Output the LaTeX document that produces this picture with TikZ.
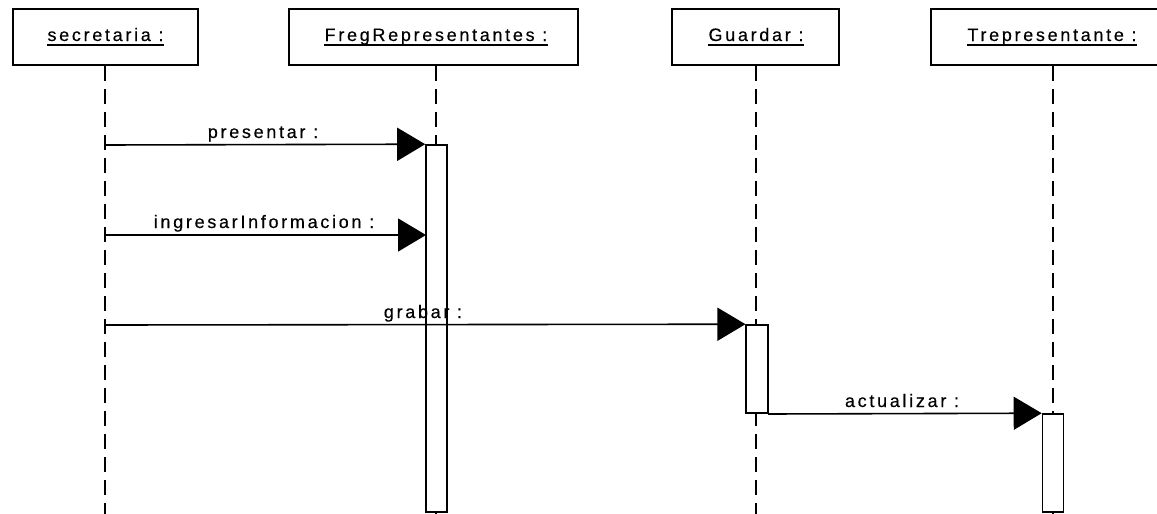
\documentclass[tikz,border=0pt]{standalone}
\usepackage{fontspec}
\setmainfont{Liberation Sans}[LetterSpace=15,FakeBold=0.3]
\usetikzlibrary{arrows.meta}
\begin{document}
\begin{tikzpicture}[x=1pt,y=-1pt,
  line width=1.6pt,
  head/.style={draw,rectangle,inner sep=0pt},
  title/.style={anchor=base,inner sep=0pt,font=\fontsize{18}{20}\selectfont},
  lbl/.style={anchor=base,inner sep=0pt,font=\fontsize{18}{20}\selectfont},
  life/.style={dash pattern=on 15pt off 8pt},
  act/.style={draw,fill=white,rectangle,inner sep=0pt,minimum width=21pt},
  msg/.style={-{Triangle[length=28pt,width=33pt]}}]
\useasboundingbox (0,0) rectangle (1157,514);
\begin{scope}
\clip (0,0) rectangle (1157,514);

% object boxes
\node[head,minimum width=185pt,minimum height=56pt] (sec) at (105.2,37) {};
\node[head,minimum width=289pt,minimum height=56pt] (freg) at (433.5,37) {};
\node[head,minimum width=167pt,minimum height=56pt] (guar) at (755.5,37) {};
\node[head,minimum width=244pt,minimum height=56pt] (trep) at (1053,37) {};

% underlined object names
\node[title] (secT) at (105.5,41) {secretaria :};
\node[title] (fregT) at (436,41) {FregRepresentantes :};
\node[title] (guarT) at (756,41) {Guardar :};
\node[title] (trepT) at (1052,41) {Trepresentante :};
\foreach \t in {secT,fregT,guarT,trepT}
  \draw[line width=1.6pt] ([yshift=-4pt]\t.base west) -- ([yshift=-4pt]\t.base east);

% lifeline ends
\coordinate (secE) at (105,514);
\coordinate (fregE) at (436,514);
\coordinate (guarE) at (756,514);
\coordinate (trepE) at (1053,514);
\draw[life] (sec.south -| secE) -- (secE);
\draw[life] (freg.south -| fregE) -- (fregE);
\draw[life] (guar.south -| guarE) -- (guarE);
\draw[life] (trep.south -| trepE) -- (trepE);

% activation bars
\node[act,minimum height=367pt] (fact) at (436.5,328.5) {};
\node[act,minimum width=21.5pt,minimum height=88pt] (gact) at (757,369) {};
\node[act,minimum height=98pt] (tact) at (1053,463) {};

% messages
\coordinate (m1s) at (105,145);
\coordinate (m2s) at (105,235);
\coordinate (m2e) at (426,235);
\coordinate (m3s) at (105,325);
\coordinate (m4s) at (768,414);
\draw[msg] (m1s) -- (fact.north west);
\draw[msg] (m2s) -- (m2e);
\draw[msg] (m3s) -- (gact.north west);
\draw[msg] (m4s) -- (tact.north west);

% message labels
\node[lbl] (l1) at (263,138) {presentar :};
\node[lbl] (l2) at (264,228) {ingresarInformacion :};
\node[lbl] (l3) at (423,318) {grabar :};
\node[lbl] (l4) at (902,407) {actualizar :};
\end{scope}
\end{tikzpicture}
\end{document}
